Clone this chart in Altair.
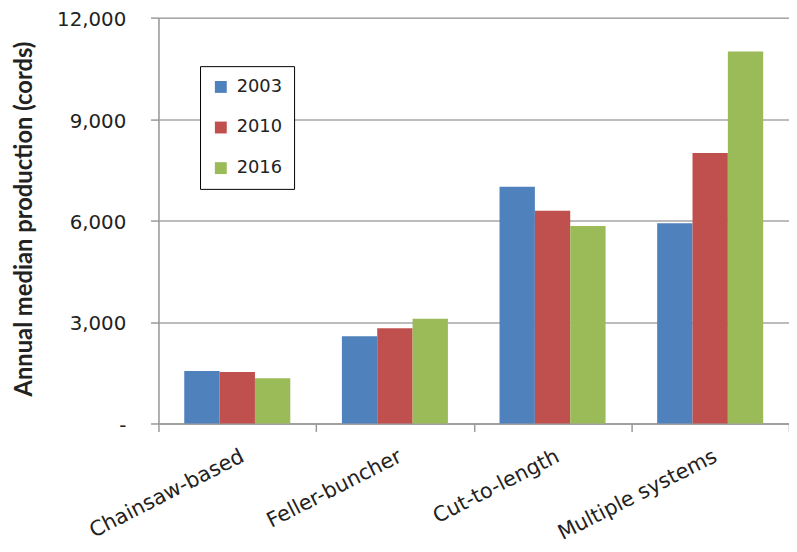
import altair as alt
import pandas as pd

categories = ["Chainsaw-based", "Feller-buncher", "Cut-to-length", "Multiple systems"]
years = ["2003", "2010", "2016"]
values_2003 = [1550, 2580, 7000, 5920]
values_2010 = [1525, 2815, 6290, 8000]
values_2016 = [1340, 3100, 5840, 11000]
colors = ["#4F81BD", "#C0504D", "#9BBB59"]
y_ticks = [0, 3000, 6000, 9000, 12000]

rows = []
for yr, vals in zip(years, [values_2003, values_2010, values_2016]):
    for c, v in zip(categories, vals):
        rows.append({"category": c, "year": yr, "value": v})
df = pd.DataFrame(rows)

chart = alt.Chart(df).mark_bar().encode(
    x=alt.X(
        "category:N", sort=categories, title=None,
        scale=alt.Scale(paddingInner=0, paddingOuter=0),
        axis=alt.Axis(
            labelAngle=-27, labelAlign="right", labelBaseline="top",
            labelFont="DejaVu Sans", labelFontSize=21, labelColor="#222222",
            labelPadding=14, tickSize=8, tickBand="extent", tickColor="#999999",
            tickWidth=1.5, domainColor="#999999", domainWidth=1.5, grid=False,
        ),
    ),
    xOffset=alt.XOffset("year:N", sort=years,
                        scale=alt.Scale(paddingInner=0, paddingOuter=0.73)),
    y=alt.Y(
        "value:Q",
        scale=alt.Scale(domain=[0, 12000], nice=False),
        axis=alt.Axis(
            values=y_ticks,
            title="Annual median production (cords)",
            titleFont="Lato", titleFontWeight="bold", titleFontSize=24,
            titleColor="#222222", titleAngle=270, titleAlign="center",
            titleBaseline="middle", titleX=-135, titleY=203,
            labelFont="DejaVu Sans", labelFontSize=20, labelColor="#222222",
            labelPadding=25, labelOffset=2, tickSize=8, tickColor="#999999",
            tickWidth=1.5, domainColor="#999999", domainWidth=1.5,
            gridColor="#a6a6a6", gridWidth=1.5,
            labelExpr="datum.value == 0 ? '-\u00a0\u2009' : format(datum.value, ',')",
        ),
    ),
    color=alt.Color(
        "year:N",
        scale=alt.Scale(domain=years, range=colors),
        legend=alt.Legend(
            orient="none", legendX=42, legendY=49, title=None,
            fillColor="white", strokeColor="black", padding=12, rowPadding=23,
            symbolType="square", symbolSize=144, symbolStrokeWidth=0,
            labelFont="DejaVu Sans", labelFontSize=18, labelOffset=7,
            labelColor="#222222",
        ),
    ),
).properties(
    width=637,
    height=410,
    autosize=alt.AutoSizeParams(type="none"),
    padding={"left": 152, "top": 7, "right": 0, "bottom": 119},
).configure_view(
    strokeWidth=0
).configure(background="white")

chart.save("out.html", embed_options={"renderer": "svg", "actions": False})
